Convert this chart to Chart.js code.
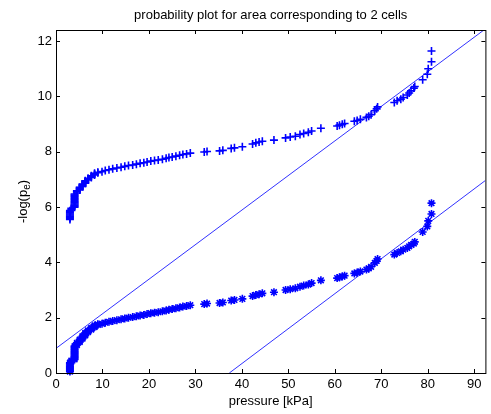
<!DOCTYPE html>
<html>
<head>
<meta charset="utf-8">
<script src="https://cdn.jsdelivr.net/npm/chart.js@4.4.1/dist/chart.umd.min.js"></script>
<style>
  html, body { margin: 0; padding: 0; background: #fff; }
  canvas { display: block; }
</style>
</head>
<body>
<canvas id="chart" width="491" height="414"></canvas>
<script>
const title = 'probability plot for area corresponding to 2 cells';
const xLabel = 'pressure [kPa]';

const xTicks = [0, 10, 20, 30, 40, 50, 60, 70, 80, 90];
const yTicks = [0, 2, 4, 6, 8, 10, 12];

// sorted pressures, shared by both probability series
const pressure = [
  3.0, 3.0, 3.0, 3.0, 3.0, 3.0, 3.0, 3.0, 3.0, 3.3, 3.3,
  4.0, 4.0, 4.0, 4.0, 4.0, 4.0, 4.0, 4.0, 4.0, 4.0, 4.0, 4.0, 4.0,
  4.5, 4.5, 4.5, 5.1, 5.1, 5.1, 5.1, 5.7, 5.7, 5.7, 5.7,
  6.3, 6.3, 6.3, 6.3, 6.9, 6.9, 6.9, 7.6, 7.6, 7.6, 8.3, 8.3, 8.3, 9.0, 9.0,
  9.9, 10.6, 11.4, 12.2, 13.1, 14.0, 14.8, 15.6, 16.5, 17.3,
  18.1, 18.9, 19.6, 20.4, 21.2, 22.0, 22.9, 23.7, 24.3, 25.0,
  25.8, 26.6, 27.3, 28.1, 28.9,
  31.9, 32.5, 35.2, 35.9, 37.7, 38.4, 40.1, 42.3, 43.0, 43.7,
  44.4, 46.9, 49.4, 50.4, 51.5, 52.5, 53.3, 54.3, 55.0, 57.0,
  60.5, 61.0, 61.6, 62.1, 64.2, 64.8, 65.5, 66.8, 67.3, 67.8,
  68.6, 69.0, 69.2, 72.8, 73.4, 74.2, 74.7, 75.6, 76.0, 76.4,
  77.0, 77.2, 78.9, 79.9, 80.1, 80.8, 80.8,
];

const logPeUpper = [
  5.55, 5.59, 5.63, 5.67, 5.71, 5.75, 5.79, 5.83, 5.87, 5.91, 5.95,
  5.99, 6.03, 6.07, 6.11, 6.15, 6.19, 6.23, 6.27, 6.31, 6.35, 6.39, 6.43, 6.47,
  6.51, 6.55, 6.59, 6.62, 6.65, 6.68, 6.71, 6.74, 6.77, 6.80, 6.83,
  6.86, 6.89, 6.92, 6.95, 6.98, 7.01, 7.04, 7.07, 7.10, 7.13, 7.16, 7.19, 7.22, 7.24, 7.26,
  7.28, 7.32, 7.35, 7.38, 7.41, 7.44, 7.47, 7.50, 7.52, 7.55,
  7.58, 7.60, 7.63, 7.66, 7.68, 7.70, 7.73, 7.76, 7.79, 7.81,
  7.84, 7.87, 7.90, 7.92, 7.95,
  7.99, 8.01, 8.03, 8.05, 8.12, 8.14, 8.18, 8.28, 8.32, 8.35,
  8.38, 8.42, 8.50, 8.53, 8.56, 8.62, 8.66, 8.70, 8.75, 8.85,
  8.93, 8.96, 8.99, 9.02, 9.10, 9.13, 9.17, 9.24, 9.28, 9.34,
  9.48, 9.55, 9.62, 9.78, 9.84, 9.90, 9.96, 10.05, 10.12, 10.20,
  10.30, 10.36, 10.60, 10.80, 11.00, 11.25, 11.64,
];

const logPeLower = [
  0.05, 0.09, 0.13, 0.17, 0.21, 0.25, 0.29, 0.33, 0.37, 0.41, 0.45,
  0.49, 0.53, 0.57, 0.61, 0.65, 0.69, 0.73, 0.77, 0.81, 0.85, 0.89, 0.93, 0.97,
  1.01, 1.05, 1.09, 1.12, 1.15, 1.18, 1.21, 1.24, 1.27, 1.30, 1.33,
  1.36, 1.39, 1.42, 1.45, 1.48, 1.51, 1.54, 1.57, 1.60, 1.63, 1.66, 1.69, 1.72, 1.74, 1.76,
  1.78, 1.82, 1.85, 1.88, 1.91, 1.94, 1.97, 2.00, 2.02, 2.05,
  2.08, 2.10, 2.13, 2.16, 2.18, 2.20, 2.23, 2.26, 2.29, 2.31,
  2.34, 2.37, 2.40, 2.42, 2.45,
  2.49, 2.51, 2.53, 2.55, 2.62, 2.64, 2.68, 2.78, 2.82, 2.85,
  2.88, 2.92, 3.00, 3.03, 3.06, 3.12, 3.16, 3.20, 3.25, 3.35,
  3.43, 3.46, 3.49, 3.52, 3.60, 3.63, 3.67, 3.74, 3.78, 3.84,
  3.98, 4.05, 4.12, 4.28, 4.34, 4.40, 4.46, 4.52, 4.58, 4.63,
  4.68, 4.74, 5.10, 5.30, 5.50, 5.75, 6.14,
];

// reference lines (end points)
const fitUpperX = [0, 92.4];
const fitUpperY = [0.89, 12.44];
const fitLowerX = [37.3, 92.4];
const fitLowerY = [0, 6.96];

const BLUE = '#0000ff';
const LINE_BLUE = 'rgb(50, 50, 255)';
const FONT = '"Liberation Sans", Arial, sans-serif';

const toPoints = (xs, ys) => xs.map((x, i) => ({ x, y: ys[i] }));

// MATLAB-like box with inward ticks and axis texts
const axesFrame = {
  id: 'axesFrame',
  afterDraw(chart) {
    const { ctx, chartArea: a, scales } = chart;
    const tick = 4;
    ctx.save();
    ctx.strokeStyle = '#000';
    ctx.lineWidth = 1;
    ctx.strokeRect(a.left + 0.5, a.top + 0.5, a.right - a.left, a.bottom - a.top);

    ctx.beginPath();
    xTicks.forEach(v => {
      const px = Math.round(scales.x.getPixelForValue(v)) + 0.5;
      ctx.moveTo(px, a.bottom);
      ctx.lineTo(px, a.bottom - tick);
      ctx.moveTo(px, a.top);
      ctx.lineTo(px, a.top + tick);
    });
    yTicks.forEach(v => {
      const py = Math.round(scales.y.getPixelForValue(v)) + 0.5;
      ctx.moveTo(a.left, py);
      ctx.lineTo(a.left + tick, py);
      ctx.moveTo(a.right, py);
      ctx.lineTo(a.right - tick, py);
    });
    ctx.stroke();

    ctx.fillStyle = '#000';
    ctx.font = `13px ${FONT}`;
    ctx.textAlign = 'center';
    ctx.textBaseline = 'alphabetic';
    const cx = (a.left + a.right) / 2;
    ctx.fillText(title, cx, 19);
    ctx.fillText(xLabel, cx, 405);

    // y label: -log(p_e), rotated, with subscript
    ctx.translate(27, (a.top + a.bottom) / 2);
    ctx.rotate(-Math.PI / 2);
    ctx.textAlign = 'left';
    const head = '-log(p';
    const sub = 'e';
    const tail = ')';
    ctx.font = `13px ${FONT}`;
    const w1 = ctx.measureText(head).width;
    const w3 = ctx.measureText(tail).width;
    ctx.font = `10px ${FONT}`;
    const w2 = ctx.measureText(sub).width;
    const start = -(w1 + w2 + w3) / 2;
    ctx.font = `13px ${FONT}`;
    ctx.fillText(head, start, 0);
    ctx.font = `10px ${FONT}`;
    ctx.fillText(sub, start + w1, 3);
    ctx.font = `13px ${FONT}`;
    ctx.fillText(tail, start + w1 + w2, 0);
    ctx.restore();
  },
};

new Chart(document.getElementById('chart'), {
  type: 'scatter',
  data: {
    datasets: [
      {
        label: 'upper',
        data: toPoints(pressure, logPeUpper),
        pointStyle: 'cross',
        pointRadius: 4,
        borderColor: BLUE,
        backgroundColor: BLUE,
        borderWidth: 1.6,
        clip: false,
      },
      {
        label: 'lower',
        data: toPoints(pressure, logPeLower),
        pointStyle: 'star',
        pointRadius: 4,
        borderColor: BLUE,
        backgroundColor: BLUE,
        borderWidth: 1.6,
        clip: false,
      },
      {
        label: 'fit upper',
        data: toPoints(fitUpperX, fitUpperY),
        showLine: true,
        pointRadius: 0,
        borderColor: LINE_BLUE,
        borderWidth: 1,
      },
      {
        label: 'fit lower',
        data: toPoints(fitLowerX, fitLowerY),
        showLine: true,
        pointRadius: 0,
        borderColor: LINE_BLUE,
        borderWidth: 1,
      },
    ],
  },
  options: {
    responsive: false,
    animation: false,
    devicePixelRatio: 1,
    layout: { padding: { top: 30, right: 1, bottom: 0, left: 0 } },
    plugins: {
      legend: { display: false },
      tooltip: { enabled: false },
      title: { display: false },
    },
    scales: {
      x: {
        type: 'linear',
        min: 0,
        max: 92.4,
        grid: { display: false, drawTicks: false },
        border: { display: false },
        ticks: { color: '#000', font: { family: FONT, size: 13 }, padding: 4, maxRotation: 0 },
        afterBuildTicks: scale => { scale.ticks = xTicks.map(value => ({ value })); },
        afterFit: scale => { scale.height = 41; },
      },
      y: {
        type: 'linear',
        min: 0,
        max: 12.4,
        grid: { display: false, drawTicks: false },
        border: { display: false },
        ticks: { color: '#000', font: { family: FONT, size: 13 }, padding: 4 },
        afterBuildTicks: scale => { scale.ticks = yTicks.map(value => ({ value })); },
        afterFit: scale => { scale.width = 56; },
      },
    },
  },
  plugins: [axesFrame],
});
</script>
</body>
</html>
